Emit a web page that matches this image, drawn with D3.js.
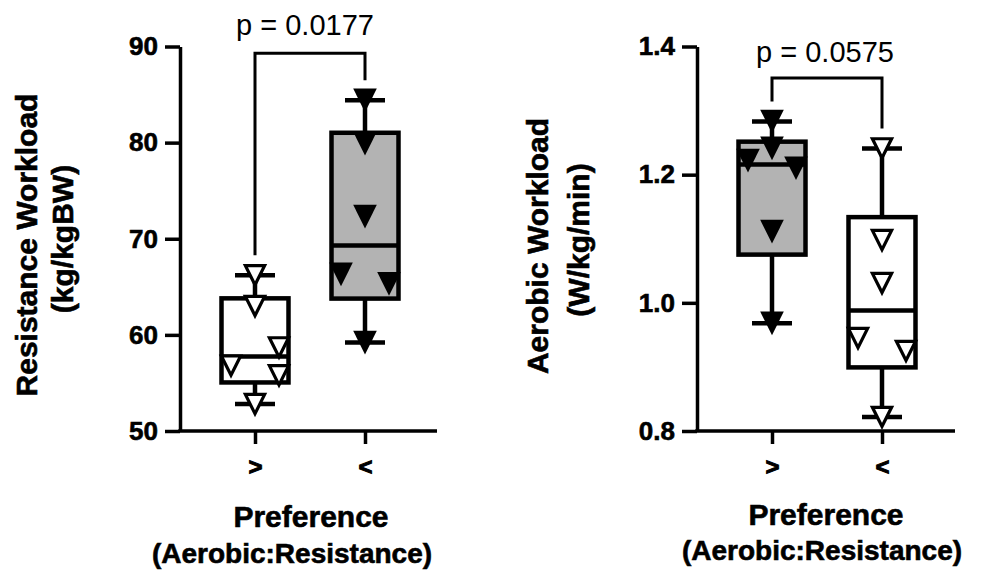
<!DOCTYPE html>
<html><head><meta charset="utf-8">
<script src="https://cdn.jsdelivr.net/npm/d3@7"></script>
<style>body{margin:0;background:#fff}svg{display:block}</style>
</head><body>
<svg id="chart" width="986" height="577"></svg>
<script>
// ---------------- DATA ----------------
const categories = [">", "<"];
const resistanceMorePref = [66.2, 63.0, 58.7, 56.8, 55.8, 52.8];
const resistanceLessPref = [84.4, 79.9, 72.3, 66.3, 65.3, 59.2];
const aerobicMorePref = [1.283, 1.241, 1.222, 1.210, 1.111, 0.968];
const aerobicLessPref = [1.241, 1.098, 1.031, 0.945, 0.925, 0.822];
// scatter lanes for overlapping points (-1 left, 0 centre, 1 right)
const lanesResMore = [0, 0, 1, -1, 1, 0];
const lanesResLess = [0, 0, 0, -1, 1, 0];
const lanesAerMore = [0, 0, -1, 1, 0, 0];
const lanesAerLess = [0, 0, 0, -1, 1, 0];
const resistanceTicks = [50, 60, 70, 80, 90];
const aerobicTicks = [0.8, 1.0, 1.2, 1.4];
const resistanceDomain = [50, 90];
const aerobicDomain = [0.8, 1.4];
const pLabels = ["p = 0.0177", "p = 0.0575"];
const bracketLevels = [89.3, 1.351];
const yTitles = [["Resistance Workload", "(kg/kgBW)"], ["Aerobic Workload", "(W/kg/min)"]];
const xTitle = ["Preference", "(Aerobic:Resistance)"];

// ---------------- LAYOUT ----------------
const FONT = "'Liberation Sans', Arial, Helvetica, sans-serif";
const GRAY = "#b3b3b3";
const svg = d3.select("#chart");
svg.append("rect").attr("width", 986).attr("height", 577).attr("fill", "#fff");

// GraphPad-style quartiles (position (n+1)p)
function gpQuantile(arr, p) {
  const s = arr.slice().sort(d3.ascending), n = s.length;
  const pos = (n + 1) * p, lo = Math.floor(pos), fr = pos - lo;
  if (lo < 1) return s[0];
  if (lo >= n) return s[n - 1];
  return s[lo - 1] + fr * (s[lo] - s[lo - 1]);
}

const triDown = {
  draw(ctx, size) {
    const w = Math.sqrt(size), h = w;
    ctx.moveTo(-w / 2, -h / 2); ctx.lineTo(w / 2, -h / 2); ctx.lineTo(0, h / 2); ctx.closePath();
  }
};

function boldText(sel, size) {
  return sel.style("font-family", FONT).style("font-weight", "bold").style("font-size", size + "px")
    .attr("fill", "#000").attr("stroke", "#000").attr("stroke-width", 0.6);
}

const panels = [
  { axisX: 180, axisEnd: 437, cat: [255, 365], domain: resistanceDomain, ticks: resistanceTicks, fmt: d3.format("d"),
    groups: [{ v: resistanceMorePref, lanes: lanesResMore, filled: false }, { v: resistanceLessPref, lanes: lanesResLess, filled: true }],
    p: pLabels[0], pX: 305, pY: 35, bracket: bracketLevels[0], titles: yTitles[0],
    tx1: 37, tx2: 73, ty: 245, ty2: 239, xt1: 311, xt2: 292, xb1: 527, xb2: 563 },
  { axisX: 697, axisEnd: 955, cat: [772, 882], domain: aerobicDomain, ticks: aerobicTicks, fmt: d3.format(".1f"),
    groups: [{ v: aerobicMorePref, lanes: lanesAerMore, filled: true }, { v: aerobicLessPref, lanes: lanesAerLess, filled: false }],
    p: pLabels[1], pX: 825, pY: 62, bracket: bracketLevels[1], titles: yTitles[1],
    tx1: 548, tx2: 589, ty: 246, ty2: 240, xt1: 826, xt2: 822, xb1: 525, xb2: 560 }
];

const Y0 = 431, Y1 = 46.5;

panels.forEach(P => {
  const y = d3.scaleLinear().domain(P.domain).range([Y0, Y1]);
  const x = d3.scalePoint().domain(categories).range(P.cat);
  const g = svg.append("g");

  // y axis
  const ya = g.append("g").attr("transform", `translate(${P.axisX},0)`)
    .call(d3.axisLeft(y).tickValues(P.ticks).tickFormat(P.fmt).tickSize(15).tickSizeOuter(0).tickPadding(7));
  ya.select(".domain").attr("stroke", "#000").attr("stroke-width", 3.5);
  ya.selectAll(".tick line").attr("stroke", "#000").attr("stroke-width", 3.5);
  boldText(ya.selectAll(".tick text"), 26);

  // x axis
  const xa = g.append("g").attr("transform", `translate(0,${Y0})`)
    .call(d3.axisBottom(x).tickSize(13).tickPadding(14));
  xa.select(".domain").remove();
  xa.append("line").attr("x1", P.axisX - 1.75).attr("x2", P.axisEnd).attr("y1", 0).attr("y2", 0)
    .attr("stroke", "#000").attr("stroke-width", 3.5);
  xa.selectAll(".tick line").attr("stroke", "#000").attr("stroke-width", 3.5);
  boldText(xa.selectAll(".tick text"), 24).attr("stroke-width", 1);

  // boxes
  const halfW = 33.5, capHalf = 20;
  P.groups.forEach((G, i) => {
    const cx = x(categories[i]);
    const mn = d3.min(G.v), mx = d3.max(G.v);
    const q1 = gpQuantile(G.v, 0.25), md = gpQuantile(G.v, 0.5), q3 = gpQuantile(G.v, 0.75);
    const bg = g.append("g");
    bg.append("line").attr("x1", cx).attr("x2", cx).attr("y1", y(mx)).attr("y2", y(q3)).attr("stroke", "#000").attr("stroke-width", 4.5);
    bg.append("line").attr("x1", cx).attr("x2", cx).attr("y1", y(q1)).attr("y2", y(mn)).attr("stroke", "#000").attr("stroke-width", 4.5);
    [mn, mx].forEach(v => bg.append("line").attr("x1", cx - capHalf).attr("x2", cx + capHalf).attr("y1", y(v)).attr("y2", y(v))
      .attr("stroke", "#000").attr("stroke-width", 4.5));
    bg.append("rect").attr("x", cx - halfW).attr("width", 2 * halfW).attr("y", y(q3)).attr("height", y(q1) - y(q3))
      .attr("fill", G.filled ? GRAY : "#fff").attr("stroke", "#000").attr("stroke-width", 4.5);
    bg.append("line").attr("x1", cx - halfW).attr("x2", cx + halfW).attr("y1", y(md)).attr("y2", y(md))
      .attr("stroke", "#000").attr("stroke-width", 4.5);
    // points
    const sym = d3.symbol().type(triDown).size(G.filled ? 560 : 370);
    bg.selectAll("path.pt").data(G.v).join("path").attr("class", "pt")
      .attr("d", sym)
      .attr("transform", (d, j) => `translate(${cx + G.lanes[j] * 24},${y(d)})`)
      .attr("fill", G.filled ? "#000" : "#fff")
      .attr("stroke", G.filled ? "none" : "#000")
      .attr("stroke-width", 3.2)
      .attr("stroke-linejoin", "miter");
  });

  // significance bracket
  const x1 = x(categories[0]), x2 = x(categories[1]);
  const top = y(P.bracket);
  const l1 = y(d3.max(P.groups[0].v)) - 20, l2 = y(d3.max(P.groups[1].v)) - 20;
  g.append("path").attr("d", d3.line()([[x1, l1], [x1, top], [x2, top], [x2, l2]]))
    .attr("fill", "none").attr("stroke", "#000").attr("stroke-width", 3);
  g.append("text").attr("x", P.pX).attr("y", P.pY).attr("text-anchor", "middle")
    .style("font-family", FONT).style("font-size", "29px").text(P.p);

  // y title
  boldText(g.append("text").attr("transform", `translate(${P.tx1},${P.ty}) rotate(-90)`).attr("text-anchor", "middle"), 30).text(P.titles[0]);
  boldText(g.append("text").attr("transform", `translate(${P.tx2},${P.ty2}) rotate(-90)`).attr("text-anchor", "middle"), 30).text(P.titles[1]);

  // x title
  boldText(g.append("text").attr("x", P.xt1).attr("y", P.xb1).attr("text-anchor", "middle"), 30).text(xTitle[0]);
  boldText(g.append("text").attr("x", P.xt2).attr("y", P.xb2).attr("text-anchor", "middle"), 28).text(xTitle[1]);
});
</script>
</body></html>
